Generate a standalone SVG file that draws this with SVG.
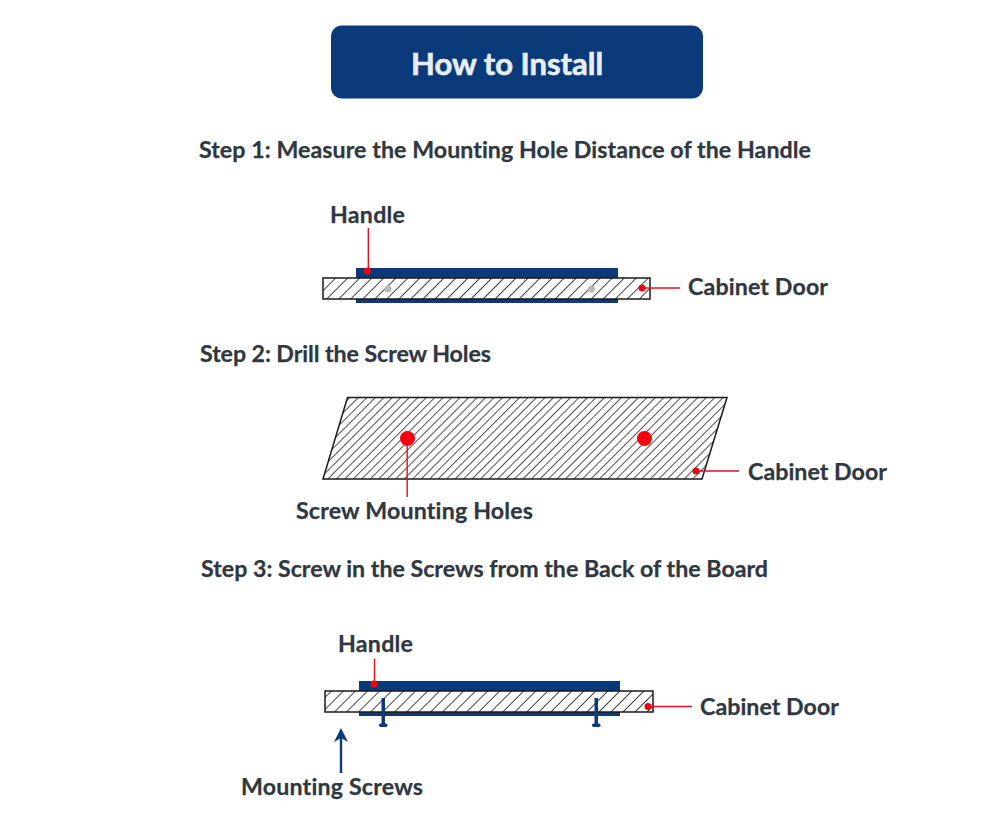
<svg xmlns="http://www.w3.org/2000/svg" width="1000" height="834" viewBox="0 0 1000 834">
<style>
text{font-family:"Lato","Liberation Sans",sans-serif;font-weight:700;fill:#2f3740;font-variant-ligatures:none;stroke:#2f3740;stroke-width:.25}
.step{font-size:23.2px}
.lab{font-size:23.2px}
.door{stroke:#1a1a1a;stroke-width:1.5}
.nav{fill:#0b3a7a}
.red{fill:#f5000f}
.rl{stroke:#e8101c;stroke-width:1.4;fill:none}
</style>
<defs>
<pattern id="h1" patternUnits="userSpaceOnUse" width="8.500" height="8.500" patternTransform="rotate(-45)"><rect width="8.500" height="8.500" fill="#fff"/><line x1="0" y1="0" x2="8.500" y2="0" stroke="#333" stroke-width="1.800"/></pattern>
<pattern id="h2" patternUnits="userSpaceOnUse" width="6" height="6" patternTransform="rotate(-45)"><rect width="6" height="6" fill="#fff"/><line x1="0" y1="0" x2="6" y2="0" stroke="#333" stroke-width="1.700"/></pattern>
</defs>
<rect width="1000" height="834" fill="#fff"/>
<g id="title"><rect x="331" y="25.500" width="372" height="73" rx="11" class="nav"/><text x="411" y="75" style="font-size:31px;fill:#e8eef6;stroke:#e8eef6;stroke-width:.6">How to Install</text></g>
<g id="step1">
<text x="199" y="158" class="step" textLength="612">Step 1: Measure the Mounting Hole Distance of the Handle</text>
<g id="handle1"><rect x="356" y="268" width="262" height="10" class="nav"/><rect x="356" y="299" width="262" height="4" class="nav"/></g>
<rect id="door1" x="323" y="278" width="327" height="21" fill="url(#h1)" class="door"/>
<circle cx="388" cy="289" r="3.500" fill="#b8b8b8"/><circle cx="591.500" cy="289" r="3.500" fill="#b8b8b8"/>
<text x="330" y="223" class="lab" textLength="75">Handle</text>
<text x="688" y="295" class="lab" textLength="140">Cabinet Door</text>
</g>
<g id="step2">
<text x="200" y="362" class="step" textLength="291">Step 2: Drill the Screw Holes</text>
<polygon id="door2" points="347.500,397.500 727,397.500 702,479 323,479" fill="url(#h2)" class="door"/>
<text x="748" y="480" class="lab" textLength="139">Cabinet Door</text>
<text x="296" y="519" class="lab" textLength="237">Screw Mounting Holes</text>
</g>
<g id="step3">
<text x="201" y="577" class="step" textLength="567">Step 3: Screw in the Screws from the Back of the Board</text>
<g id="handle3"><rect x="359" y="681" width="261" height="10" class="nav"/><rect x="359" y="712" width="261" height="4" class="nav"/></g>
<rect id="door3" x="325" y="691" width="328" height="21" fill="url(#h1)" class="door"/>
<g id="screw1" class="nav"><rect x="381.500" y="698" width="3.500" height="27"/><rect x="379" y="723.500" width="8.500" height="3.500" rx="1.700"/></g>
<g id="screw2" class="nav"><rect x="594.500" y="698" width="3.500" height="27"/><rect x="592" y="723.500" width="8.500" height="3.500" rx="1.700"/></g>
<text x="338" y="652" class="lab" textLength="75">Handle</text>
<text x="700" y="715" class="lab" textLength="139">Cabinet Door</text>
<text x="241" y="795" class="lab" textLength="182">Mounting Screws</text>
</g>
<g id="connectors">
<path class="rl" d="M368.300 228V271M642 288H680M407.200 438V497M696 471H739M374.500 659V684M648 706.500H692"/>
<circle cx="367.500" cy="271" r="3.500" class="red"/><circle cx="642" cy="288" r="3.500" class="red"/>
<circle cx="407.500" cy="438.500" r="7.500" class="red"/><circle cx="644.500" cy="438.500" r="7.500" class="red"/><circle cx="696" cy="471" r="3.500" class="red"/>
<circle cx="374" cy="684" r="3.500" class="red"/><circle cx="648" cy="706.500" r="3.500" class="red"/>
<path d="M341 773V735" stroke="#0b3a7a" stroke-width="2.400" fill="none"/><path d="M341 728L348 742L341 738L334 742Z" class="nav"/>
</g>
</svg>
